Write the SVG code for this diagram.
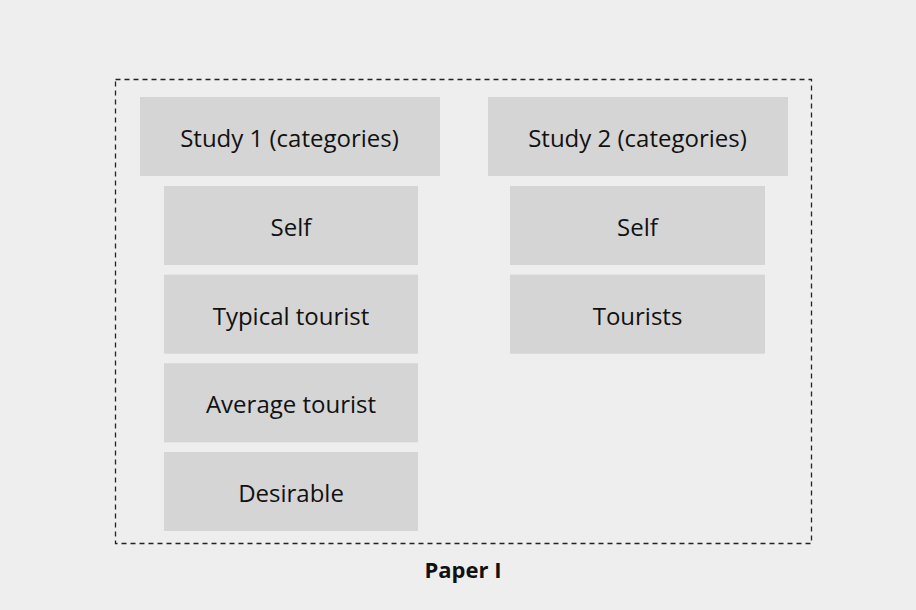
<svg xmlns="http://www.w3.org/2000/svg" width="916" height="610" viewBox="0 0 916 610">
<style>
.box{fill:#d5d5d5}
.t{font-family:"Open Sans","Liberation Sans",sans-serif;font-size:24px;fill:#111;text-anchor:middle}
.b{font-family:"Open Sans","Liberation Sans",sans-serif;font-size:22px;font-weight:bold;fill:#111;text-anchor:middle}
</style>
<rect x="0" y="0" width="916" height="610" fill="#eeeeee"/>
<g id="paper">
<rect x="115.5" y="79.5" width="696" height="464" fill="none" stroke="#222" stroke-width="1.3" stroke-dasharray="5,4"/>
<text class="b" x="463" y="578">Paper I</text>
</g>
<g id="study1"><rect class="box" x="140" y="97" width="300" height="79"/><text class="t" x="289.5" y="147">Study 1 (categories)</text></g>
<g id="s1self"><rect class="box" x="164" y="186" width="254" height="79"/><text class="t" x="291" y="236">Self</text></g>
<g id="s1typical"><rect class="box" x="164" y="274.7" width="254" height="79"/><text class="t" x="291" y="324.7">Typical tourist</text></g>
<g id="s1average"><rect class="box" x="164" y="363.3" width="254" height="79"/><text class="t" x="291" y="413.3">Average tourist</text></g>
<g id="s1desirable"><rect class="box" x="164" y="452" width="254" height="79"/><text class="t" x="291" y="502">Desirable</text></g>
<g id="study2"><rect class="box" x="488" y="97" width="300" height="79"/><text class="t" x="637.5" y="147">Study 2 (categories)</text></g>
<g id="s2self"><rect class="box" x="510" y="186" width="255" height="79"/><text class="t" x="637.5" y="236">Self</text></g>
<g id="s2tourists"><rect class="box" x="510" y="274.7" width="255" height="79"/><text class="t" x="637.5" y="324.7">Tourists</text></g>
<g id="connectors"></g>
</svg>
